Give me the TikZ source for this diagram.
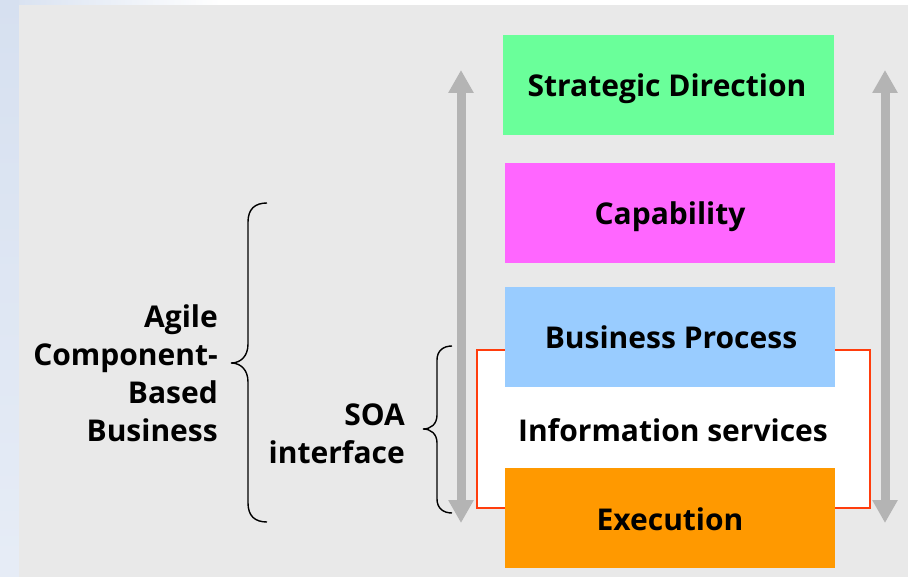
\documentclass[tikz,border=0pt]{standalone}
\usepackage{fontspec}
\setmainfont{Open Sans}
\usetikzlibrary{arrows.meta}
\definecolor{panelgray}{HTML}{E9E9E9}
\definecolor{bgblue}{HTML}{D6E0F0}
\definecolor{sgreen}{HTML}{6AFF9A}
\definecolor{smag}{HTML}{FF66FF}
\definecolor{sblue}{HTML}{99CCFF}
\definecolor{sorange}{HTML}{FF9900}
\definecolor{sred}{HTML}{FF3D0D}
\definecolor{arrgray}{HTML}{B4B4B4}
\tikzset{
  lbl/.style={font=\fontsize{30}{38}\selectfont\bfseries, inner sep=0pt, text=black},
  boxtxt/.style={lbl, align=center},
  bigarrow/.style={draw=arrgray, line width=9pt,
     {Triangle[length=23pt,width=24pt]}-{Triangle[length=23pt,width=24pt]}},
  bracepath/.style={draw=black, line width=1.4pt}
}
\begin{document}
\begin{tikzpicture}[x=1pt,y=-1pt]
\useasboundingbox (0,0) rectangle (913,577);
% background
\fill[white] (0,0) rectangle (913,577);
\shade[left color=bgblue, right color=white] (0,0) rectangle (220,5);
\shade[top color=bgblue, bottom color=bgblue!60!white] (0,0) rectangle (19,577);
\fill[panelgray] (19,5) rectangle (908,577);

% red frame around information services
\draw[sred, line width=2.8pt, fill=white] (477,350) rectangle (870,508);

% layers
\fill[sgreen] (503,35) rectangle (834,135);
\fill[smag] (505,163) rectangle (835,263);
\fill[sblue] (505,287) rectangle (835,387);
\fill[sorange] (505,468) rectangle (835,568);

\node[boxtxt] (sd) at (667,89) {Strategic Direction};
\node[boxtxt] (cap) at (670,217) {Capability};
\node[boxtxt] (bp) at (671,337) {Business Process};
\node[boxtxt] (is) at (673,430) {Information services};
\node[boxtxt] (ex) at (670,519) {Execution};

% arrows
\coordinate (la1) at (461,70);
\coordinate (la2) at (461,523);
\coordinate (ra1) at (885,70);
\coordinate (ra2) at (885,523);
\draw[bigarrow] (la1) -- (la2);
\draw[bigarrow] (ra1) -- (ra2);

% big brace
\coordinate (bbt) at (267,203);
\coordinate (bbm) at (231,363);
\coordinate (bbb) at (267,522);
\draw[bracepath] (bbt) .. controls (255,203) and (248,209) .. (248,222)
  -- (248,344) .. controls (248,356) and (241,363) .. (bbm)
  .. controls (241,363) and (248,370) .. (248,382)
  -- (248,503) .. controls (248,516) and (255,522) .. (bbb);

% small brace
\coordinate (sbt) at (452,346);
\coordinate (sbm) at (423,429);
\coordinate (sbb) at (452,513);
\draw[bracepath] (sbt) .. controls (443,346) and (437,351) .. (437,360)
  -- (437,415) .. controls (437,424) and (431,429) .. (sbm)
  .. controls (431,429) and (437,434) .. (437,443)
  -- (437,499) .. controls (437,508) and (443,513) .. (sbb);

% labels
\node[lbl, align=right, anchor=east] (acb) at (218,373) {Agile\\Component-\\Based\\Business};
\node[lbl, align=right, anchor=east] (soa) at (405,434) {SOA\\interface};
\end{tikzpicture}
\end{document}
